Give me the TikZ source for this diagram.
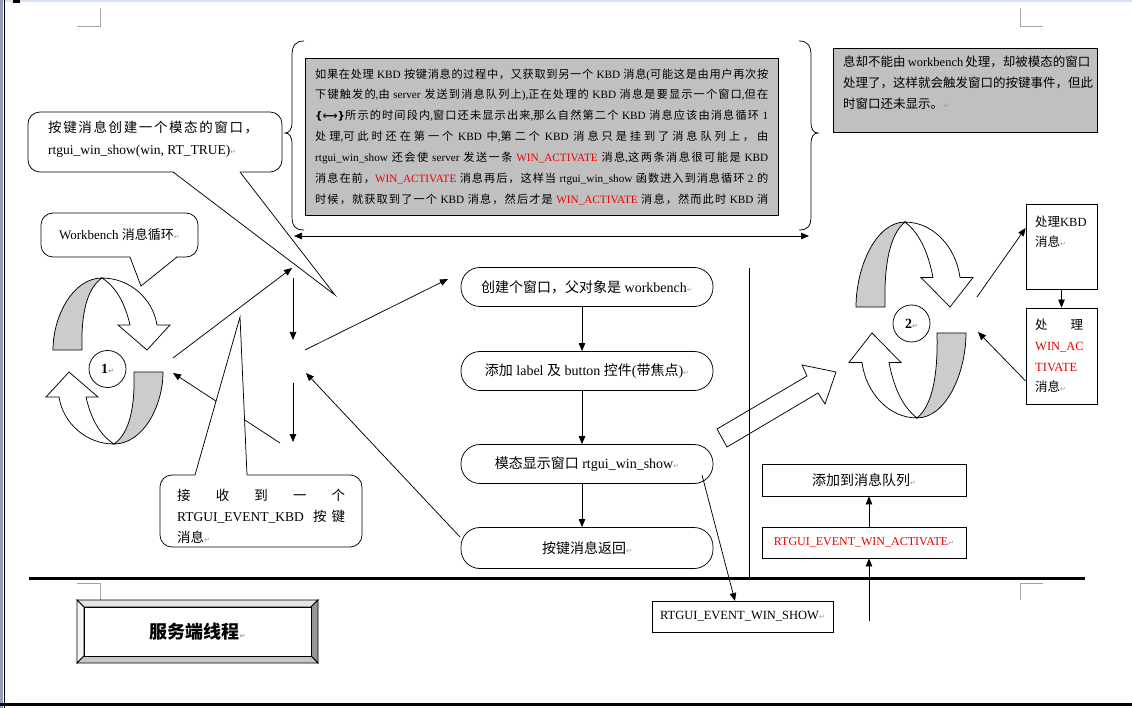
\documentclass[tikz,border=0pt]{standalone}
\usepackage{fontspec}
\setmainfont{Liberation Serif}
\newfontfamily\cjkf{Noto Sans CJK SC}
\newfontfamily\dejavu{DejaVu Sans}
\usetikzlibrary{arrows.meta}
% automatic CJK font switching
\XeTeXinterchartokenstate=1
\newXeTeXintercharclass\CJKcls
\newcount\mycnt
\mycnt="2E80
\loop\ifnum\mycnt<"A000 \XeTeXcharclass\mycnt=\CJKcls \advance\mycnt 1 \repeat
\mycnt="FF00
\loop\ifnum\mycnt<"FFF0 \XeTeXcharclass\mycnt=\CJKcls \advance\mycnt 1 \repeat
\XeTeXinterchartoks 0 \CJKcls={\cjkf}
\XeTeXinterchartoks 4095 \CJKcls={\cjkf}
\XeTeXinterchartoks \CJKcls 0={\rmfamily}
\XeTeXinterchartoks \CJKcls 4095={\rmfamily}
\XeTeXinterchartoks \CJKcls \CJKcls={\hskip 0pt plus 2pt\relax}
\definecolor{boxgray}{RGB}{192,192,192}
\definecolor{bandgray}{RGB}{204,204,204}
\definecolor{markgray}{RGB}{165,165,165}
\definecolor{wred}{RGB}{235,0,0}
\definecolor{topblue}{RGB}{214,226,246}
\definecolor{sidebar}{RGB}{150,156,180}
\definecolor{bvtop}{RGB}{228,228,228}
\definecolor{bvleft}{RGB}{245,245,245}
\definecolor{bvright}{RGB}{150,150,150}
\definecolor{bvbot}{RGB}{200,200,200}
\newcommand\retmark{{\dejavu\fontsize{7}{7}\selectfont\textcolor{black!40}{↵}}}
\newcommand\jl[2]{\hbox to #1{#2}}
\newcommand\redt[1]{\textcolor{wred}{#1}}
\newcommand\mainf{\fontsize{11.2}{13}\selectfont}
\newcommand\midf{\fontsize{12.5}{14}\selectfont}
\newcommand\bigf{\fontsize{13.5}{16}\selectfont}
\newcommand\ellf{\fontsize{14}{16}\selectfont}
\newcommand\circhalf{%
  \filldraw[ln,fill=bandgray] (-55,-11) .. controls (-55,-45) and (-35,-83) .. (-6,-83)
     .. controls (-22,-72) and (-27,-45) .. (-26,-11) -- cycle;
  \filldraw[ln,fill=white,line join=miter] (-6,-83) .. controls (22,-83) and (45,-62) .. (49,-36)
     -- (62,-36) -- (39,-11) -- (10,-36) -- (22,-36) .. controls (17,-58) and (8,-74) .. (-6,-83) -- cycle;}
\tikzset{
  ln/.style={line width=0.75pt},
  arr/.style={ln,-{Triangle[length=8pt,width=6.5pt]}},
  darr/.style={ln,{Triangle[length=8pt,width=6.5pt]}-{Triangle[length=8pt,width=6.5pt]}},
  term/.style={draw,ln,fill=white,rounded corners=19pt,minimum width=252pt,minimum height=39pt,inner sep=0pt,font=\ellf},
  sbox/.style={draw,ln,fill=white,inner sep=0pt},
  bubble/.style={draw,ln,fill=white,rounded corners=12pt,inner sep=0pt},
  txt/.style={anchor=base west,inner sep=0pt},
  cmark/.style={draw=markgray,line width=1pt},
}
\begin{document}
\begin{tikzpicture}[x=1pt,y=-1pt]
\useasboundingbox (0,0) rectangle (1132,708);
% page frame
\fill[white] (0,0) rectangle (1132,708);
\fill[topblue] (0,0) rectangle (1132,2);
\fill[sidebar] (0,0) rectangle (3,708);
\fill[black] (13,0) rectangle (20,3);
\draw[line width=1.5pt] (4.5,0) -- (4.5,708);
\draw[line width=3pt] (0,704.5) -- (1132,704.5);
% corner marks
\draw[cmark] (77,27) -- (100,27) -- (100,8);
\draw[cmark] (1043,27) -- (1020,27) -- (1020,8);
\draw[cmark] (77,583) -- (100,583) -- (100,600);
\draw[cmark] (1043,583) -- (1020,583) -- (1020,600);

% ---------- big bracket with gray text ----------
\draw[ln] (304,41) .. controls (295,41) and (292,46) .. (292,56) -- (292,122)
  .. controls (292,130) and (289,133) .. (285,133) .. controls (289,133) and (292,136) .. (292,144)
  -- (292,216) .. controls (292,226) and (295,230) .. (304,230);
\draw[ln] (799,41) .. controls (808,41) and (811,46) .. (811,56) -- (811,122)
  .. controls (811,130) and (814,133) .. (818,133) .. controls (814,133) and (811,136) .. (811,144)
  -- (811,216) .. controls (811,226) and (808,230) .. (799,230);
\coordinate (dl) at (294,236);
\coordinate (dr) at (809,236);
\draw[darr] (dl) -- (dr);
\node[draw,ln,fill=boxgray,minimum width=473pt,minimum height=157pt,inner sep=0pt] (gbox) at (541.5,136.5) {};
\node[txt,font=\mainf] (m1) at (315,78.1) {\jl{453pt}{如果在处理 KBD 按键消息的过程中，又获取到另一个 KBD 消息(可能这是由用户再次按}};
\node[txt,font=\mainf] (m2) at (315,98.9) {\jl{453pt}{下键触发的,由 server 发送到消息队列上),正在处理的 KBD 消息是要显示一个窗口,但在}};
\node[txt,font=\mainf] (m3) at (315,119.8) {\jl{453pt}{{\dejavu\fontsize{10.5}{11}\selectfont\bfseries\{⟷\}}所示的时间段内,窗口还未显示出来,那么自然第二个 KBD 消息应该由消息循环 1}};
\node[txt,font=\mainf] (m4) at (315,140.6) {\jl{453pt}{处理,可此时还在第一个 KBD 中,第二个 KBD 消息只是挂到了消息队列上，由}};
\node[txt,font=\mainf] (m5) at (315,161.4) {\jl{453pt}{rtgui\_win\_show 还会使 server 发送一条 \redt{WIN\_ACTIVATE} 消息,这两条消息很可能是 KBD}};
\node[txt,font=\mainf] (m6) at (315,182.3) {\jl{453pt}{消息在前，\redt{WIN\_ACTIVATE} 消息再后，这样当 rtgui\_win\_show 函数进入到消息循环 2 的}};
\node[txt,font=\mainf] (m7) at (315,203.1) {\jl{453pt}{时候，就获取到了一个 KBD 消息，然后才是 \redt{WIN\_ACTIVATE} 消息，然而此时 KBD 消}};

% ---------- right gray box ----------
\node[draw,ln,fill=boxgray,minimum width=264pt,minimum height=84pt,inner sep=0pt] (g2) at (965,90) {};
\node[txt,font=\midf] (g2a) at (843,66.6) {\jl{242pt}{息却不能由 workbench 处理，却被模态的窗口}};
\node[txt,font=\midf] (g2b) at (843,87.6) {\jl{242pt}{处理了，这样就会触发窗口的按键事件，但此}};
\node[txt,font=\midf] (g2c) at (843,108.6) {时窗口还未显示。\retmark};

% ---------- circular arrows ----------
\begin{scope}[shift={(108,361)}]
  \circhalf
  \begin{scope}[rotate=180]\circhalf\end{scope}
\end{scope}
\node[draw,ln,circle,fill=white,minimum size=37pt,inner sep=0pt,font=\fontsize{14}{16}\selectfont\bfseries] (n1) at (107.5,369) {1\retmark};
\begin{scope}[shift={(911,320)},yscale=1.18]
  \circhalf
  \begin{scope}[rotate=180]\circhalf\end{scope}
\end{scope}
\node[draw,ln,circle,fill=white,minimum size=37pt,inner sep=0pt,font=\fontsize{14}{16}\selectfont\bfseries] (n2) at (911.5,323.5) {2\retmark};

% ---------- flow ellipses ----------
\node[term] (E1) at (587,287) {创建个窗口，父对象是 workbench\retmark};
\node[term] (E2) at (587,371) {添加 label 及 button 控件(带焦点)\retmark};
\node[term] (E3) at (587,464) {模态显示窗口 rtgui\_win\_show\retmark};
\node[term,minimum height=41pt] (E4) at (587,548) {按键消息返回\retmark};
\draw[arr] ([xshift=-5pt]E1.south) -- ([xshift=-5pt]E2.north);
\draw[arr] ([xshift=-5pt]E2.south) -- ([xshift=-5pt]E3.north);
\draw[arr] ([xshift=-5pt]E3.south) -- ([xshift=-5pt]E4.north);

% ---------- hub arrows ----------
\coordinate (h1) at (173,358);
\coordinate (h2) at (292,268);
\coordinate (h3) at (293,278);
\coordinate (h4) at (293,340);
\coordinate (h5) at (305,350);
\coordinate (h6) at (448,279);
\coordinate (h7) at (460,537);
\coordinate (h8) at (306,373);
\coordinate (h9) at (293,383);
\coordinate (h10) at (293,442);
\coordinate (h11) at (280,443);
\coordinate (h12) at (173,373);
\draw[arr] (h1) -- (h2);
\draw[arr] (h3) -- (h4);
\draw[arr] (h5) -- (h6);
\draw[arr] (h7) -- (h8);
\draw[arr] (h9) -- (h10);
\draw[arr] (h11) -- (h12);

% ---------- callouts ----------
\node[bubble,minimum width=254pt,minimum height=60pt] (c1) at (155,142) {};
\coordinate (c1t) at (335,295);
\fill[white] (173,171) -- (c1t) -- (240,171) -- cycle;
\draw[ln] (173,172) -- (c1t) -- (240,172);
\node[txt,font=\bigf] (c1a) at (48,133) {\jl{210pt}{按键消息创建一个模态的窗口，}};
\node[txt,font=\bigf] (c1b) at (48,155) {rtgui\_win\_show(win, RT\_TRUE)\retmark};

\node[bubble,minimum width=157pt,minimum height=44pt,font=\fontsize{13}{15}\selectfont] (c2) at (119.5,235) {Workbench 消息循环\retmark};
\coordinate (c2t) at (141,286);
\fill[white] (130,256) -- (c2t) -- (177,256) -- cycle;
\draw[ln] (130,257) -- (c2t) -- (177,257);

\node[bubble,minimum width=202pt,minimum height=72pt] (c3) at (261,511) {};
\coordinate (c3t) at (240,317);
\fill[white] (195,476) -- (c3t) -- (247,476) -- cycle;
\draw[ln] (195,475) -- (c3t) -- (247,475);
\node[txt,font=\bigf] (c3a) at (177,500) {\jl{168pt}{接\hfill 收\hfill 到\hfill 一\hfill 个}};
\node[txt,font=\bigf] (c3b) at (177,521) {\jl{168pt}{RTGUI\_EVENT\_KBD\hskip 6pt plus 1fil 按\hskip 2pt plus 1fil 键}};
\node[txt,font=\bigf] (c3c) at (177,542) {消息\retmark};

% ---------- right side ----------
\filldraw[ln,fill=white,line join=miter] (717,429) -- (807,376) -- (802,365) -- (836,372) -- (825,404) -- (818,393) -- (727,447) -- cycle;
\coordinate (vt) at (749,268);
\coordinate (vb) at (749,578);
\draw[ln] (vt) -- (vb);

\node[sbox,minimum width=71pt,minimum height=85pt] (r1) at (1061.5,246.5) {};
\node[txt,font=\midf] (r1a) at (1035,226.6) {处理KBD};
\node[txt,font=\midf] (r1b) at (1035,246.6) {消息\retmark};
\node[sbox,minimum width=71pt,minimum height=96pt] (r2) at (1061.5,356) {};
\node[txt,font=\midf] (r2a) at (1035,329.6) {\jl{48pt}{处\hfill 理}};
\node[txt,font=\midf] (r2b) at (1035,350.6) {\redt{WIN\_AC}};
\node[txt,font=\midf] (r2c) at (1035,371.1) {\redt{TIVATE}};
\node[txt,font=\midf] (r2d) at (1035,391.6) {消息\retmark};
\draw[arr] (r1.south) -- (r2.north);
\coordinate (q1) at (977,297);
\coordinate (q2) at (978,332);
\draw[arr] (q1) -- (r1.west |- 0,228);
\draw[arr] (r2.west |- 0,381) -- (q2);

\node[sbox,minimum width=204pt,minimum height=32pt,font=\ellf] (b1) at (864,480) {添加到消息队列\retmark};
\node[sbox,minimum width=204pt,minimum height=31pt,font=\fontsize{12}{14}\selectfont] (b2) at (864,542.5) {\redt{RTGUI\_EVENT\_WIN\_ACTIVATE}\retmark};
\node[sbox,minimum width=181pt,minimum height=31pt,font=\midf] (b3) at (742.5,616.5) {RTGUI\_EVENT\_WIN\_SHOW\retmark};
\coordinate (s1) at (869,621);
\draw[arr] (s1) -- (b2.south -| s1);
\draw[arr] (b2.north -| s1) -- (b1.south -| s1);
\coordinate (w1) at (702,475);
\coordinate (w2) at (735,601);
\draw[arr] (w1) -- (w2);

% ---------- baseline ----------
\coordinate (bl) at (29,578.5);
\coordinate (br) at (1085,578.5);
\draw[line width=3pt] (bl) -- (br);

% ---------- server thread box ----------
\filldraw[ln,fill=bvtop] (77,600) -- (318,600) -- (311,607) -- (84,607) -- cycle;
\filldraw[ln,fill=bvleft] (77,600) -- (84,607) -- (84,656) -- (77,663) -- cycle;
\filldraw[ln,fill=bvright] (318,600) -- (318,663) -- (311,656) -- (311,607) -- cycle;
\filldraw[ln,fill=bvbot] (77,663) -- (318,663) -- (311,656) -- (84,656) -- cycle;
\node[draw,ln,fill=white,minimum width=227pt,minimum height=49pt,inner sep=0pt,font=\fontsize{18}{20}\selectfont\bfseries] (srv) at (197.5,631.5) {服务端线程\retmark};
\end{tikzpicture}
\end{document}
